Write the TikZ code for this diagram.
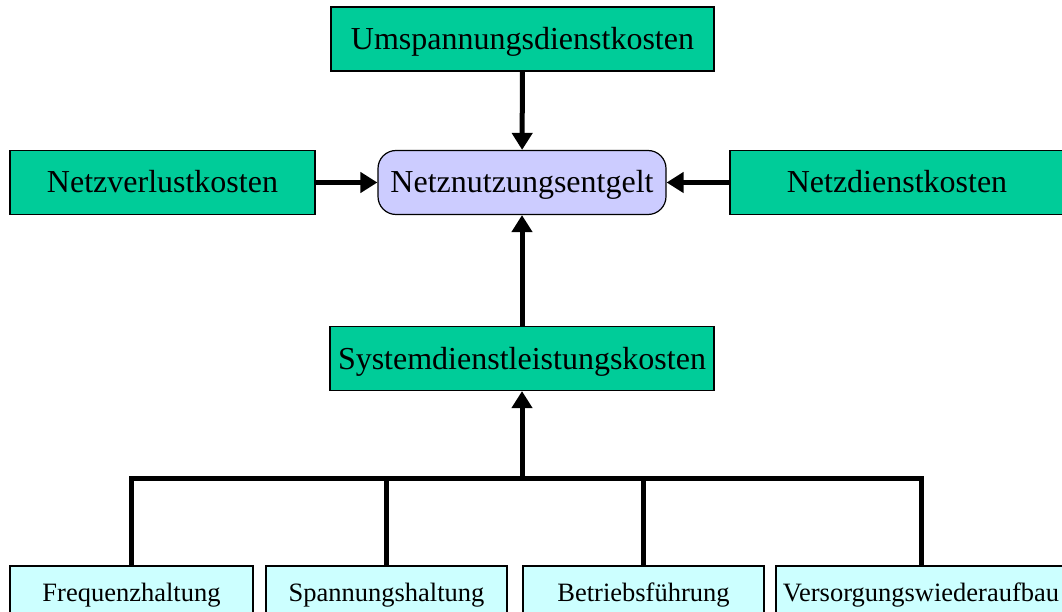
\documentclass[tikz,border=0pt]{standalone}
\usepackage{fontspec}
\setmainfont{Liberation Serif}
\usetikzlibrary{arrows.meta}
\definecolor{kgreen}{HTML}{00CC99}
\definecolor{klila}{HTML}{CCCCFF}
\definecolor{kcyan}{HTML}{CCFFFF}
\begin{document}
\begin{tikzpicture}[x=1pt,y=1pt,
	box/.style={draw,line width=1.2pt,fill=kgreen,minimum height=64pt,inner sep=0pt,text height=27pt,text depth=6pt,font=\fontsize{32}{38}\selectfont},
	small/.style={draw,line width=1.2pt,fill=kcyan,minimum height=58pt,inner sep=0pt,font=\fontsize{26.5}{32}\selectfont},
	conn/.style={line width=5pt},
	arr/.style={conn,-{Triangle[length=17pt,width=20pt]}}]
	\useasboundingbox (0,0) rectangle (1062,611);
	\node[box,minimum width=383pt] (U) at (522.5,572) {Umspannungsdienstkosten};
	\node[box,minimum width=288pt,fill=klila,rounded corners=18pt] (E) at (522,428.5) {Netznutzungsentgelt};
	\node[box,minimum width=305pt] (V) at (162.5,428.5) {Netzverlustkosten};
	\node[box,minimum width=334pt] (D) at (897,428.5) {Netzdienstkosten};
	\node[box,minimum width=384pt] (S) at (522,252.5) {Systemdienstleistungskosten};
	\coordinate (B) at (522,133);
	\foreach \n/\x/\w/\t in {1/131.5/243/Frequenzhaltung,2/386.5/241/Spannungshaltung,3/643.5/241/Betriebsführung,4/921/290/Versorgungswiederaufbau}{
		\node[small,minimum width=\w pt] (F\n) at (\x,16) {\t};
	}
	\draw[arr] (U) -- (E);
	\draw[arr] (V) -- (E);
	\draw[arr] (D) -- (E);
	\draw[arr] (S) -- (E);
	\draw[conn] (F1.north) -- (F1.north |- B) -- (F4.north |- B) -- (F4.north);
	\draw[conn] (F2.north) -- (F2.north |- B) (F3.north) -- (F3.north |- B);
	\draw[arr] (B) -- (S);
\end{tikzpicture}
\end{document}
